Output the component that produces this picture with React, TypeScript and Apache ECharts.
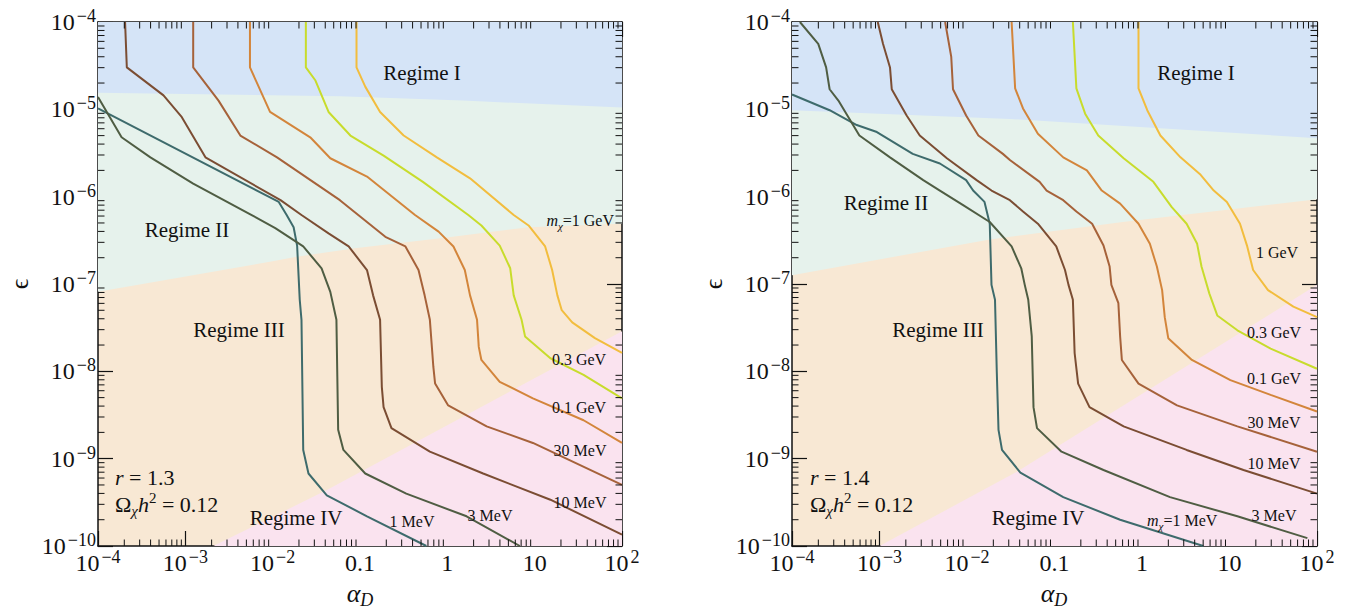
import React, { useEffect, useRef } from "react";
import * as echarts from "echarts";

const FONT = "'Liberation Serif', 'Times New Roman', Times, serif";
const INK = "#111111";

// ---------- axes (values are log10 of alpha_D and epsilon) ----------
const xMajor = [-4, -3, -2, -1, 0, 1, 2];
const yMajor = [-10, -9, -8, -7, -6, -5, -4];
const minorSteps = [2, 3, 4, 5, 6, 7, 8, 9];

// ---------- masses ----------
const massNames = ["1 MeV", "3 MeV", "10 MeV", "30 MeV", "0.1 GeV", "0.3 GeV", "1 GeV"];
const massColors = ["#3e6b6c", "#4f5d43", "#7b4d33", "#a6623a", "#d3853b", "#c8dc2c", "#f2bd3e"];

const regimeColors = ["#d5e4f7", "#e6f2ec", "#f8e8d4", "#fae3ef"]; // I, II, III, IV

// ---------- left panel: r = 1.3 ----------
const L_1MeV = [[-4, -4.99], [-1.93, -6.06], [-1.84, -6.21], [-1.76, -6.35], [-1.72, -6.56], [-1.69, -7.18], [-1.67, -7.41], [-1.65, -8.9], [-1.59, -9.17], [-1.38, -9.42], [-0.92, -9.66], [-0.24, -10]];
const L_3MeV = [[-4, -4.86], [-3.73, -5.32], [-3.4, -5.55], [-2.91, -5.85], [-2.24, -6.21], [-1.97, -6.36], [-1.65, -6.57], [-1.44, -6.82], [-1.34, -7.09], [-1.27, -7.41], [-1.25, -8.67], [-1.19, -8.9], [-0.94, -9.17], [-0.47, -9.4], [0.22, -9.66], [0.83, -10]];
const L_10MeV = [[-3.69, -4], [-3.67, -4.52], [-3.25, -4.84], [-3.04, -5.09], [-2.77, -5.55], [-1.91, -6.04], [-1.67, -6.21], [-1.36, -6.42], [-1.13, -6.57], [-0.92, -6.84], [-0.85, -7.13], [-0.77, -7.41], [-0.75, -8.18], [-0.73, -8.41], [-0.64, -8.65], [-0.2, -8.92], [0.41, -9.17], [1.18, -9.47], [2, -9.87]];
const L_30MeV = [[-2.91, -4], [-2.91, -4.52], [-2.62, -4.9], [-2.37, -5.3], [-1.95, -5.55], [-1.23, -6.04], [-1.02, -6.21], [-0.71, -6.46], [-0.48, -6.57], [-0.33, -6.84], [-0.26, -7.13], [-0.2, -7.41], [-0.16, -7.95], [-0.14, -8.14], [0.01, -8.39], [0.45, -8.63], [0.98, -8.82], [2, -9.3]];
const L_100MeV = [[-2.26, -4], [-2.26, -4.52], [-2.03, -5.03], [-1.57, -5.32], [-1.34, -5.56], [-0.92, -5.77], [-0.37, -6.21], [-0.1, -6.4], [0.07, -6.57], [0.2, -6.84], [0.26, -7.13], [0.34, -7.41], [0.36, -7.72], [0.39, -7.87], [0.6, -8.12], [0.98, -8.31], [1.56, -8.56], [2, -8.82]];
const L_300MeV = [[-1.62, -4], [-1.62, -4.52], [-1.51, -4.67], [-1.36, -5.03], [-1.11, -5.3], [-0.73, -5.53], [-0.28, -5.83], [0.24, -6.21], [0.39, -6.33], [0.6, -6.56], [0.72, -6.82], [0.76, -7.13], [0.85, -7.41], [0.89, -7.6], [1.18, -7.85], [1.56, -8.04], [2, -8.31]];
const L_1GeV = [[-1.04, -4], [-1.04, -4.52], [-0.94, -4.74], [-0.77, -5.03], [-0.5, -5.3], [-0.12, -5.55], [0.26, -5.79], [0.76, -6.21], [0.93, -6.33], [1.12, -6.57], [1.2, -6.84], [1.26, -7.13], [1.31, -7.3], [1.43, -7.44], [1.69, -7.62], [2, -7.79]];

const L_bI = [[-4, -4.81], [-1.23, -4.85], [0.18, -4.9], [2, -4.98]];
const L_bII = [[-4, -7.09], [-2, -6.74], [-1.74, -6.69], [-1.06, -6.59], [-0.03, -6.47], [0.93, -6.35], [2, -6.31]];
const L_bIII = [[-2.68, -10], [-1.38, -9.36], [2, -7.54]];

// ---------- right panel: r = 1.4 ----------
const R_1MeV = [[-4, -4.83], [-3.57, -5.01], [-3.26, -5.18], [-3.03, -5.26], [-2.62, -5.51], [-2.31, -5.62], [-2.01, -5.81], [-1.93, -5.93], [-1.8, -6.06], [-1.74, -6.31], [-1.72, -7.01], [-1.68, -7.18], [-1.66, -7.99], [-1.64, -8.67], [-1.6, -8.9], [-1.39, -9.16], [-0.9, -9.44], [-0.25, -9.7], [0.7, -10]];
const R_3MeV = [[-3.91, -4], [-3.7, -4.25], [-3.61, -4.52], [-3.57, -4.77], [-3.47, -4.9], [-3.23, -5.3], [-2.88, -5.55], [-2.5, -5.81], [-2.31, -5.93], [-2.04, -6.1], [-1.74, -6.29], [-1.49, -6.57], [-1.38, -6.82], [-1.34, -7.01], [-1.3, -7.18], [-1.26, -7.6], [-1.24, -8.41], [-1.2, -8.65], [-0.92, -8.92], [-0.44, -9.13], [0.32, -9.44], [1.09, -9.66], [1.89, -9.91]];
const R_10MeV = [[-3.02, -4], [-2.96, -4.25], [-2.88, -4.52], [-2.86, -4.77], [-2.69, -5.07], [-2.54, -5.3], [-2.23, -5.56], [-1.89, -5.81], [-1.72, -5.93], [-1.51, -6.04], [-1.36, -6.17], [-1.19, -6.31], [-0.98, -6.57], [-0.88, -6.84], [-0.84, -7.01], [-0.79, -7.18], [-0.77, -7.79], [-0.73, -8.14], [-0.6, -8.41], [-0.21, -8.63], [0.51, -8.9], [1.16, -9.13], [2, -9.4]];
const R_30MeV = [[-2.25, -4], [-2.18, -4.4], [-2.16, -4.77], [-2.01, -5.07], [-1.87, -5.3], [-1.59, -5.51], [-1.51, -5.58], [-1.17, -5.83], [-1.09, -5.93], [-0.9, -6.04], [-0.75, -6.17], [-0.57, -6.31], [-0.44, -6.56], [-0.37, -6.8], [-0.35, -7.01], [-0.27, -7.22], [-0.25, -7.6], [-0.23, -7.87], [-0.04, -8.14], [0.4, -8.39], [1.09, -8.63], [2, -8.92]];
const R_100MeV = [[-1.49, -4], [-1.45, -4.76], [-1.36, -4.99], [-1.19, -5.28], [-0.9, -5.55], [-0.63, -5.7], [-0.46, -5.93], [-0.25, -6.08], [-0.04, -6.31], [0.09, -6.54], [0.17, -6.8], [0.23, -7.07], [0.26, -7.38], [0.3, -7.62], [0.57, -7.87], [1.01, -8.1], [1.47, -8.27], [2, -8.46]];
const R_300MeV = [[-0.79, -4], [-0.75, -4.76], [-0.65, -5.05], [-0.5, -5.3], [-0.21, -5.56], [0.13, -5.83], [0.34, -6.12], [0.51, -6.31], [0.63, -6.54], [0.68, -6.8], [0.77, -7.11], [0.86, -7.36], [1.09, -7.53], [1.47, -7.74], [2, -7.97]];
const R_1GeV = [[-0.04, -4], [-0.04, -4.76], [0.06, -5.01], [0.21, -5.3], [0.44, -5.55], [0.67, -5.75], [0.82, -5.93], [0.97, -6.06], [1.12, -6.31], [1.2, -6.56], [1.27, -6.84], [1.44, -7.07], [1.73, -7.26], [2, -7.38]];

const R_bI = [[-4, -5.01], [-1.51, -5.11], [2, -5.33]];
const R_bII = [[-4, -6.9], [-1.74, -6.49], [-0.22, -6.29], [2, -6.03]];
const R_bIII = [[-3.0, -10], [-1.43, -9.15], [2, -7.01]];

const leftCurves = [L_1MeV, L_3MeV, L_10MeV, L_30MeV, L_100MeV, L_300MeV, L_1GeV];
const rightCurves = [R_1MeV, R_3MeV, R_10MeV, R_30MeV, R_100MeV, R_300MeV, R_1GeV];

const MINUS = "\u2212";

function supLabel(v: number) {
  const n = Math.round(v);
  return `{b|10}{s|${n < 0 ? MINUS + -n : String(n)}}`;
}
function xLabel(v: number) {
  const n = Math.round(v);
  if (n === -1) return "{b|0.1}";
  if (n === 0) return "{b|1}";
  if (n === 1) return "{b|10}";
  return supLabel(n);
}

const tickRich = {
  b: { fontFamily: FONT, fontSize: 24, lineHeight: 30, color: INK },
  s: { fontFamily: FONT, fontSize: 18, lineHeight: 15, verticalAlign: "top", color: INK, padding: [0, 0, 0, 2] },
};

function makeAxes(gi: number) {
  const common = {
    gridIndex: gi,
    type: "value",
    interval: 1,
    splitLine: { show: false },
    axisLine: { show: true, onZero: false, lineStyle: { color: INK, width: 1.5 } },
    axisTick: { show: true, inside: true, length: 15, lineStyle: { color: INK, width: 1.2 } },
  };
  const xs = [
    { ...common, min: -4, max: 2, position: "bottom", axisLabel: { show: true, margin: 2, formatter: xLabel, rich: tickRich, showMinLabel: true, showMaxLabel: true } },
    { ...common, min: -4, max: 2, position: "top", axisLabel: { show: false } },
  ];
  const ys = [
    { ...common, min: -10, max: -4, position: "left", axisLabel: { show: true, margin: 2, formatter: supLabel, rich: tickRich, showMinLabel: true, showMaxLabel: true } },
    { ...common, min: -10, max: -4, position: "right", axisLabel: { show: false } },
  ];
  return { xs, ys };
}

const MINOR = 6.5;

function panelSeries(p: number, curves: number[][][], bI: number[][], bII: number[][], bIII: number[][]) {
  const xi = p * 2;
  const yi = p * 2;
  const polys = [
    [[-4, -4], [2, -4], ...[...bII].reverse()],
    [[-4, -4], [2, -4], ...[...bI].reverse()],
    [...bIII, [2, -10]],
  ];
  const fills = [regimeColors[1], regimeColors[0], regimeColors[3]];
  const series: any[] = [];
  series.push({
    type: "custom",
    xAxisIndex: xi,
    yAxisIndex: yi,
    silent: true,
    z: 1,
    clip: true,
    data: polys.map((_, i) => [i - 3, -7]),
    renderItem: (params: any, api: any) => ({
      type: "polygon",
      shape: { points: polys[params.dataIndex].map((pt) => api.coord(pt)) },
      style: { fill: fills[params.dataIndex], stroke: null },
    }),
  });
  curves.forEach((c, i) => {
    series.push({
      type: "line",
      name: massNames[i] + (p === 0 ? " (r=1.3)" : " (r=1.4)"),
      xAxisIndex: xi,
      yAxisIndex: yi,
      data: c,
      showSymbol: false,
      symbol: "none",
      silent: true,
      z: 3,
      lineStyle: { width: 2, color: massColors[i] },
      itemStyle: { color: massColors[i] },
    });
  });
  const ticks: number[][] = [];
  for (let n = -4; n < 2; n++) for (const k of minorSteps) { ticks.push([n + Math.log10(k), 0]); ticks.push([n + Math.log10(k), 1]); }
  for (let n = -10; n < -4; n++) for (const k of minorSteps) { ticks.push([n + Math.log10(k), 2]); ticks.push([n + Math.log10(k), 3]); }
  series.push({
    type: "custom",
    xAxisIndex: xi,
    yAxisIndex: yi,
    silent: true,
    z: 5,
    clip: false,
    data: ticks.map(() => [0, -7]),
    renderItem: (params: any, api: any) => {
      const [pos, side] = ticks[params.dataIndex];
      let a: number[];
      let b: number[];
      if (side === 0) { a = api.coord([pos, -10]); b = [a[0], a[1] - MINOR]; }
      else if (side === 1) { a = api.coord([pos, -4]); b = [a[0], a[1] + MINOR]; }
      else if (side === 2) { a = api.coord([-4, pos]); b = [a[0] + MINOR, a[1]]; }
      else { a = api.coord([2, pos]); b = [a[0] - MINOR, a[1]]; }
      return { type: "line", shape: { x1: a[0], y1: a[1], x2: b[0], y2: b[1] }, style: { stroke: INK, lineWidth: 1 } };
    },
  });
  return series;
}

function rich(size: number) {
  return {
    i: { fontFamily: FONT, fontSize: size, fontStyle: "italic", fill: INK, lineHeight: size + 6 },
    n: { fontFamily: FONT, fontSize: size, fill: INK, lineHeight: size + 6 },
    sub: { fontFamily: FONT, fontSize: Math.round(size * 0.68), fontStyle: "italic", fill: INK, lineHeight: 10, verticalAlign: "bottom" },
    sup: { fontFamily: FONT, fontSize: Math.round(size * 0.68), fill: INK, lineHeight: 10, verticalAlign: "top" },
  };
}

function txt(x: number, y: number, text: string, size: number, align = "center", rotation = 0) {
  return {
    type: "text",
    x,
    y,
    rotation,
    silent: true,
    z: 50,
    style: {
      text,
      fontFamily: FONT,
      fontSize: size,
      fill: INK,
      textAlign: align,
      textVerticalAlign: "middle",
      rich: rich(size),
    },
  };
}

export default function App() {
  const ref = useRef<HTMLDivElement>(null);
  useEffect(() => {
    if (!ref.current) return;
    const chart = echarts.init(ref.current, null, { renderer: "svg" });
    const A = makeAxes(0);
    const B = makeAxes(1);
    const texts = [
      // left panel
      txt(422, 73, "Regime I", 21),
      txt(187, 230, "Regime II", 21),
      txt(239, 330, "Regime III", 21),
      txt(296, 518, "Regime IV", 21),
      txt(115, 477, "{i|r}{n| = 1.3}", 22, "left"),
      txt(115, 504, "{n|\u03A9}{sub|\u03C7}{i|h}{sup|2}{n| = 0.12}", 22, "left"),
      txt(614, 220, "{i|m}{sub|\u03C7}{n|=1 GeV}", 16, "right"),
      txt(579, 359, "0.3 GeV", 16),
      txt(579, 407, "0.1 GeV", 16),
      txt(580, 450, "30 MeV", 16),
      txt(580, 502, "10 MeV", 16),
      txt(490, 515, "3 MeV", 16),
      txt(412, 521, "1 MeV", 16),
      txt(19, 284, "\u03F5", 26, "center", Math.PI / 2),
      txt(360, 593, "{i|\u03B1}{sub|D}", 26),
      // right panel
      txt(1196, 73, "Regime I", 21),
      txt(886, 203, "Regime II", 21),
      txt(938, 330, "Regime III", 21),
      txt(1038, 518, "Regime IV", 21),
      txt(810, 477, "{i|r}{n| = 1.4}", 22, "left"),
      txt(810, 504, "{n|\u03A9}{sub|\u03C7}{i|h}{sup|2}{n| = 0.12}", 22, "left"),
      txt(1277, 252, "1 GeV", 16),
      txt(1274, 332, "0.3 GeV", 16),
      txt(1274, 378, "0.1 GeV", 16),
      txt(1274, 422, "30 MeV", 16),
      txt(1274, 463, "10 MeV", 16),
      txt(1274, 515, "3 MeV", 16),
      txt(1147, 520, "{i|m}{sub|\u03C7}{n|=1 MeV}", 16, "left"),
      txt(713, 284, "\u03F5", 26, "center", Math.PI / 2),
      txt(1054, 593, "{i|\u03B1}{sub|D}", 26),
    ];
    chart.setOption({
      animation: false,
      backgroundColor: "#ffffff",
      grid: [
        { left: 98, top: 22, width: 524, height: 524, show: true, backgroundColor: regimeColors[2], borderWidth: 0 },
        { left: 792, top: 22, width: 525, height: 524, show: true, backgroundColor: regimeColors[2], borderWidth: 0 },
      ],
      xAxis: [...A.xs, ...B.xs],
      yAxis: [...A.ys, ...B.ys],
      series: [
        ...panelSeries(0, leftCurves, L_bI, L_bII, L_bIII),
        ...panelSeries(1, rightCurves, R_bI, R_bII, R_bIII),
      ],
      graphic: texts,
    });
    return () => chart.dispose();
  }, []);
  return <div ref={ref} style={{ position: "absolute", left: 0, top: 0, width: 1346, height: 609 }} />;
}
